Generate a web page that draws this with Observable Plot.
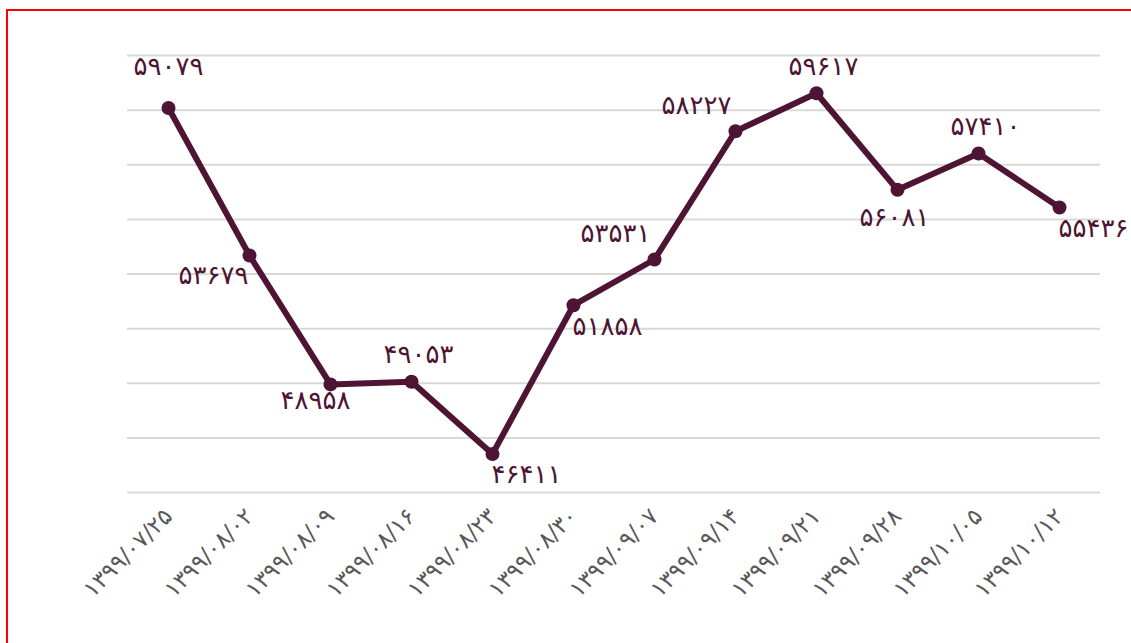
<!DOCTYPE html>
<html>
<head>
<meta charset="utf-8">
<script src="https://cdn.jsdelivr.net/npm/d3@7"></script>
<script src="https://cdn.jsdelivr.net/npm/@observablehq/plot@0.6"></script>
<style>
  html, body { margin: 0; padding: 0; background: #fff; }
  body { width: 1131px; height: 643px; position: relative; overflow: hidden; }
  #frame { position: absolute; left: 6px; top: 9px; width: 1140px; height: 650px;
           border-left: 2px solid #ff0000; border-top: 2px solid #ff0000; box-sizing: border-box; }
  #chart { position: absolute; left: 0; top: 0; }
</style>
</head>
<body>
<div id="frame"></div>
<div id="chart"></div>
<script>
// ---- data ----
const dates = ["۱۳۹۹/۰۷/۲۵", "۱۳۹۹/۰۸/۰۲", "۱۳۹۹/۰۸/۰۹", "۱۳۹۹/۰۸/۱۶", "۱۳۹۹/۰۸/۲۳", "۱۳۹۹/۰۸/۳۰",
               "۱۳۹۹/۰۹/۰۷", "۱۳۹۹/۰۹/۱۴", "۱۳۹۹/۰۹/۲۱", "۱۳۹۹/۰۹/۲۸", "۱۳۹۹/۱۰/۰۵", "۱۳۹۹/۱۰/۱۲"];
const values = [59079, 53679, 48958, 49053, 46411, 51858, 53531, 58227, 59617, 56081, 57410, 55436];
const gridTicks = [45000, 47000, 49000, 51000, 53000, 55000, 57000, 59000, 61000];
// label placement relative to each point
const labelPlacement = ["NN", "W", "SW", "N", "SE", "SE", "NW", "NW", "N", "S", "N", "SE"];

// ---- helpers / style ----
const offsets = {
  NN: [0, -41], N: [7, -27], S: [-3, 28], W: [-36, 20], SW: [-15, 16], SE: [34, 21], NW: [-39, -26]
};
const faDigits = "۰۱۲۳۴۵۶۷۸۹";
const toFa = n => String(n).replace(/\d/g, d => faDigits[+d]);
const data = dates.map((d, i) => ({date: d, value: values[i], label: toFa(values[i]), place: labelPlacement[i]}));
const color = "#4d1434";
const font = "DejaVu Sans";

const labelMarks = Object.entries(offsets).map(([key, [dx, dy]]) =>
  Plot.text(data.filter(d => d.place === key), {
    x: "date", y: "value", text: "label", dx, dy,
    fill: color, fontSize: 26, fontFamily: font, textAnchor: "middle"
  })
);

const chart = Plot.plot({
  width: 1131,
  height: 643,
  marginLeft: 127,
  marginRight: 31,
  marginTop: 55,
  marginBottom: 151,
  style: {fontFamily: font, background: "transparent", overflow: "visible"},
  x: {type: "point", domain: dates, padding: 0.5, align: 0.5, label: null},
  y: {domain: [45000, 61000], label: null},
  marks: [
    Plot.ruleY(gridTicks, {stroke: "#d9d9d9", strokeWidth: 2}),
    Plot.axisY({ticks: [], label: null}),
    Plot.axisX({
      tickSize: 0, tickRotate: -45, tickPadding: 20, fontSize: 23, fill: "#595959",
      label: null, fontFamily: font
    }),
    Plot.line(data, {x: "date", y: "value", stroke: color, strokeWidth: 6, strokeLinejoin: "round"}),
    Plot.dot(data, {x: "date", y: "value", r: 7, fill: color}),
    ...labelMarks
  ]
});
document.getElementById("chart").appendChild(chart);
</script>
</body>
</html>
